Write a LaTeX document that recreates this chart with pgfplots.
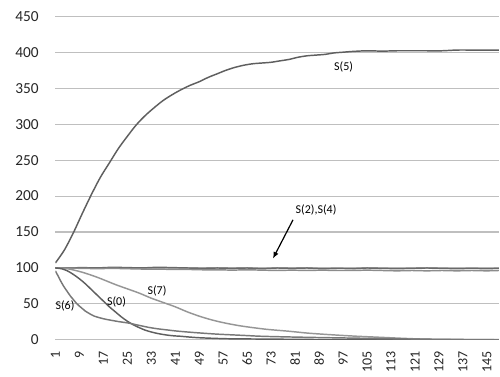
\documentclass[border=0pt]{standalone}
\usepackage{fontspec}
\setmainfont{Carlito}
\usepackage{pgfplots}
\pgfplotsset{compat=1.18}
\usetikzlibrary{arrows.meta}
\definecolor{gridc}{RGB}{191,191,191}
\definecolor{cfive}{RGB}{95,95,95}
\definecolor{ctwo}{RGB}{105,105,105}
\definecolor{cfour}{RGB}{140,140,140}
\definecolor{cseven}{RGB}{150,150,150}
\definecolor{czero}{RGB}{95,95,95}
\definecolor{csix}{RGB}{120,120,120}
\begin{document}
\begin{tikzpicture}
\begin{axis}[
  scale only axis, width=333.4pt, height=243pt,
  xmin=1, xmax=149.2, ymin=0, ymax=450,
  ytick={0,50,...,450}, xtick={1,9,...,145},
  ymajorgrids, major grid style={gridc, line width=0.8pt},
  tick style={draw=none}, axis line style={draw=none},
  /pgf/number format/assume math mode=true,
  xticklabel style={rotate=90, anchor=east, font=\fontsize{10.5}{12}\selectfont, text=black!85},
  yticklabel style={font=\fontsize{11.5}{13}\selectfont, text=black!85},
  xticklabel shift=5pt, yticklabel shift=9pt,
  clip=true,
  every axis plot/.append style={line width=1.1pt, no markers},
]
% S(5)
\addplot[cfive, smooth] coordinates {(1,107)(4,125)(7,149)(10,176)(13,202)(16,226)(19,246)(22,266)(25,283)(28,299)(31,312)(34,323)(37,333)(40,341)(43,348)(46,354)(49,359)(52,365)(55,370)(58,375)(61,379)(64,382)(67,384)(70,385)(73,386)(76,388)(79,390)(82,393)(85,395)(88,396)(91,397)(94,399)(97,400)(100,401)(105,402)(110,401.5)(115,402)(120,402)(125,402)(130,402)(135,403)(140,403)(145,403)(149,403)};
% S(2)
\addplot[ctwo] coordinates {(1,100)(5,100)(10,100.5)(15,100)(20,101)(25,100.5)(30,100)(35,101)(40,100.5)(45,100)(50,99.5)(55,100)(60,99.5)(65,100)(70,99)(75,100)(80,99.5)(85,100)(90,99)(95,99.5)(100,99)(105,100)(110,99.5)(115,99)(120,99.5)(125,100)(130,99.5)(135,99)(140,99.5)(145,99)(149,99.5)};
% S(4)
\addplot[cfour] coordinates {(1,100)(5,99.8)(10,99.5)(15,99)(20,99.5)(25,99)(30,98.5)(35,98.5)(40,98)(45,98)(50,97.5)(55,97.5)(60,97)(65,97.5)(70,97)(75,96.5)(80,97)(85,96.5)(90,97)(95,96.5)(100,96.5)(105,97)(110,96.5)(115,96)(120,96.5)(125,96)(130,96.5)(135,96)(140,96.5)(145,96)(149,96.5)};
% S(7)
\addplot[cseven, smooth] coordinates {(1,100)(5,99)(10,94)(15,87)(21,77)(25,71)(29,65)(33,58)(37,52)(41,46)(45,39)(49,33)(53,28)(57,24)(62,20)(67,17)(72,14.5)(79,12)(85,9.5)(90,8)(96,6.4)(102,5)(110,3.5)(118,2)(125,1)(135,0.5)(149,0.2)};
% S(0)
\addplot[czero, smooth] coordinates {(1,100)(3,99)(5,96)(7,91)(9,85)(11,78)(13,70)(15,62)(17,54)(19,46)(21,39)(23,32)(25,26)(27,21)(29,17)(31,13.5)(33,11)(35,9)(37,7.5)(39,6.3)(41,5.5)(43,5)(45,4.2)(49,3)(55,2)(60,1.5)(75,1)(90,0.5)(110,0.2)(149,0)};
% S(6)
\addplot[csix, smooth] coordinates {(1,96)(2,88)(3,80)(4,73)(5,67)(6,61)(7,56)(8,51)(9,47)(10,43.5)(11,40)(12,37.5)(13,35)(14,33)(16,30.5)(18,28.5)(20,27)(22,25.5)(24,24.3)(26,23)(28,21)(30,19.3)(32,17.5)(35,15.5)(38,14)(41,12.5)(45,11)(49,9.7)(55,8)(60,7)(65,6)(70,5)(80,4)(90,3.2)(100,2.5)(110,1.8)(120,1.2)(130,0.8)(140,0.5)(149,0.3)};
% labels
\node[font=\fontsize{9}{11}\selectfont] at (axis cs:97.2,380) {S(5)};
\node[font=\fontsize{9}{11}\selectfont] at (axis cs:4.2,46.7) {S(6)};
\node[font=\fontsize{9}{11}\selectfont] at (axis cs:21.4,52.8) {S(0)};
\node[font=\fontsize{9}{11}\selectfont] at (axis cs:34.9,67.5) {S(7)};
\node[font=\fontsize{9}{11}\selectfont] at (axis cs:88,181) {S(2),S(4)};
\draw[black, line width=0.9pt, -{Latex[length=5pt,width=4pt]}] (axis cs:80.3,167) -- (axis cs:73.6,113);
\end{axis}
\path ([xshift=-41.6pt,yshift=-25.3pt]current axis.south west) rectangle ([yshift=12.2pt]current axis.north east);
\end{tikzpicture}
\end{document}
